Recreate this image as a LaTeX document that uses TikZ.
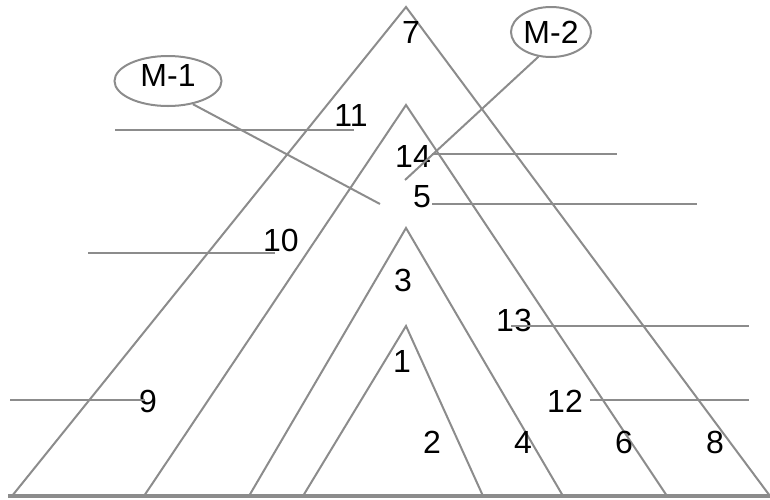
\documentclass[tikz,border=0pt]{standalone}
\usepackage{fontspec}
\setmainfont{Liberation Sans}
\usetikzlibrary{shapes.geometric}
\definecolor{linegray}{RGB}{140,140,140}
\tikzset{
  edge/.style={draw=linegray, line width=2pt},
  base/.style={draw=linegray, line width=3.2pt},
  num/.style={inner sep=0pt, font=\fontsize{32}{38}\selectfont, text=black},
  tag/.style={ellipse, draw=linegray, line width=2pt, inner sep=0pt,
              font=\fontsize{32}{38}\selectfont, text=black},
}
\begin{document}
\begin{tikzpicture}[x=1pt, y=-1pt]
\useasboundingbox (0,0) rectangle (770,499);

% nested triangles
\draw[edge] (12,496) -- (406,7) -- (770,496);
\draw[edge] (144,496) -- (406,105) -- (667,496);
\draw[edge] (249,496) -- (406,228) -- (563,496);
\draw[edge] (303,496) -- (406,326) -- (483,496);
\coordinate (bl) at (8,496);
\coordinate (br) at (770,496);
\draw[base] (bl) -- (br);

% region numbers
\node[num] (n1) at (402,361) {1};
\node[num] (n2) at (432,442) {2};
\node[num] (n3) at (403,280) {3};
\node[num] (n4) at (523,442) {4};
\node[num] (n5) at (422,197) {5};
\node[num] (n6) at (624,442) {6};
\node[num] (n7) at (411,32) {7};
\node[num] (n8) at (715,442) {8};
\node[num] (n9) at (148,401) {9};
\node[num] (n10) at (281,240) {10};
\node[num] (n11) at (351,115) {11};
\node[num] (n12) at (565,401) {12};
\node[num] (n13) at (514,320) {13};
\node[num] (n14) at (413,156) {14};

% leader lines
\coordinate (l11a) at (115,130); \coordinate (l11b) at (354,130);
\coordinate (l10a) at (88,253);  \coordinate (l10b) at (275,253);
\coordinate (l9a)  at (10,400);  \coordinate (l9b)  at (145,400);
\coordinate (l14a) at (432,154); \coordinate (l14b) at (617,154);
\coordinate (l5a)  at (432,204); \coordinate (l5b)  at (697,204);
\coordinate (l13a) at (511,326); \coordinate (l13b) at (749,326);
\coordinate (l12a) at (590,400); \coordinate (l12b) at (749,400);
\draw[edge] (l11a) -- (l11b);
\draw[edge] (l10a) -- (l10b);
\draw[edge] (l9a) -- (l9b);
\draw[edge] (l14a) -- (l14b);
\draw[edge] (l5a) -- (l5b);
\draw[edge] (l13a) -- (l13b);
\draw[edge] (l12a) -- (l12b);

% marker tags
\node[tag, minimum width=107pt, minimum height=50pt, text depth=12pt] (m1) at (168,81) {M-1};
\node[tag, minimum width=80pt, minimum height=50pt] (m2) at (551,32) {M-2};
\coordinate (m1end) at (380,204);
\coordinate (m2end) at (405,180);
\draw[edge] (m1.-43) -- (m1end);
\draw[edge] (m2.-117) -- (m2end);
\end{tikzpicture}
\end{document}
